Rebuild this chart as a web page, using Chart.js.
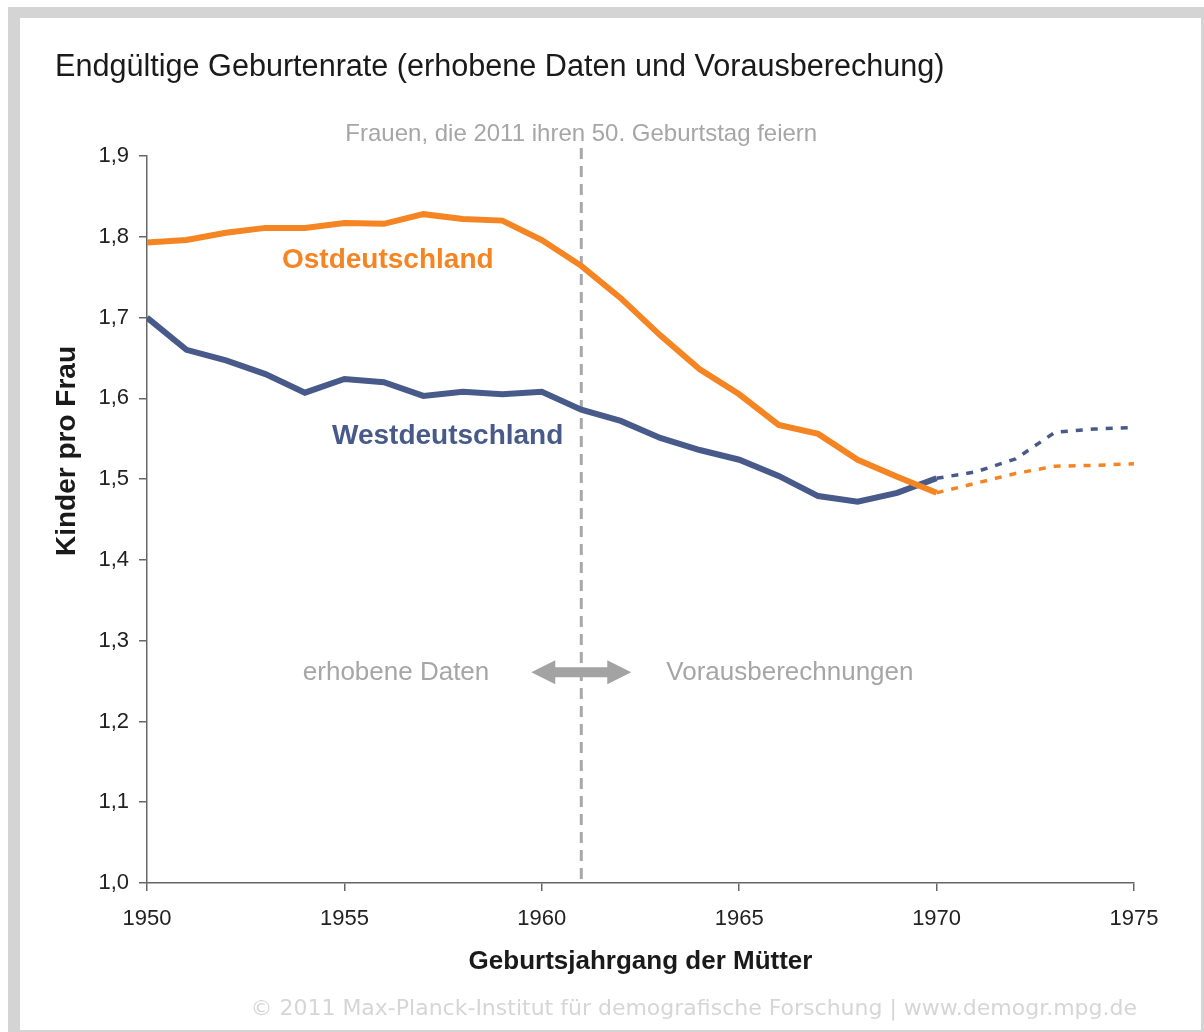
<!DOCTYPE html>
<html>
<head>
<meta charset="utf-8">
<script src="https://cdn.jsdelivr.net/npm/chart.js@4.4.1/dist/chart.umd.min.js"></script>
<style>
  body { margin: 0; background: #fff; }
  canvas { display: block; }
</style>
</head>
<body>
<canvas id="myChart" width="1204" height="1032"></canvas>
<script>
// observed cohorts
const years = [1950, 1951, 1952, 1953, 1954, 1955, 1956, 1957, 1958, 1959, 1960,
  1961, 1962, 1963, 1964, 1965, 1966, 1967, 1968, 1969, 1970];
const ost = [1.793, 1.796, 1.805, 1.811, 1.811, 1.817, 1.816, 1.828, 1.822, 1.820, 1.796,
  1.764, 1.724, 1.678, 1.636, 1.605, 1.567, 1.556, 1.524, 1.503, 1.483];
const west = [1.700, 1.660, 1.647, 1.630, 1.607, 1.624, 1.620, 1.603, 1.608, 1.605, 1.608,
  1.586, 1.572, 1.551, 1.536, 1.524, 1.504, 1.479, 1.472, 1.483, 1.501];

// projections
const projYears = [1970, 1971, 1972, 1973, 1974, 1975];
const ostProj = [1.483, 1.495, 1.507, 1.516, 1.517, 1.519];
const westProj = [1.501, 1.509, 1.525, 1.558, 1.562, 1.564];

const xTicks = [1950, 1955, 1960, 1965, 1970, 1975];
const yTicks = [1.0, 1.1, 1.2, 1.3, 1.4, 1.5, 1.6, 1.7, 1.8, 1.9];
const splitYear = 1961;

const ORANGE = "#F58423";
const BLUE = "#475A89";
const FONT = "'Liberation Sans', Arial, sans-serif";

const toPts = (xs, ys) => xs.map((x, i) => ({ x: x, y: ys[i] }));

const decorations = {
  id: "decorations",
  beforeDraw(chart) {
    const c = chart.ctx;
    c.save();
    // grey frame
    c.fillStyle = "#d4d4d4";
    c.fillRect(8, 7, 1196, 1025);
    c.fillStyle = "#ffffff";
    c.fillRect(20, 18, 1181, 1012);
    c.restore();
  },
  beforeDatasetsDraw(chart) {
    const c = chart.ctx;
    const xs = chart.scales.x;
    const area = chart.chartArea;
    const xm = xs.getPixelForValue(splitYear);
    c.save();
    c.strokeStyle = "#a8a8a8";
    c.lineWidth = 3;
    c.setLineDash([11, 7]);
    c.beginPath();
    c.moveTo(xm, area.top - 8);
    c.lineTo(xm, area.bottom);
    c.stroke();
    c.restore();
  },
  afterDraw(chart) {
    const c = chart.ctx;
    const xs = chart.scales.x;
    const ys = chart.scales.y;
    const area = chart.chartArea;
    const xm = xs.getPixelForValue(splitYear);
    c.save();

    // title
    c.fillStyle = "#1a1a1a";
    c.font = "30.6px " + FONT;
    c.textAlign = "left";
    c.textBaseline = "middle";
    c.fillText("Endgültige Geburtenrate (erhobene Daten und Vorausberechung)", 55, 68);

    // axis titles
    c.font = "bold 26px " + FONT;
    c.textAlign = "center";
    c.fillText("Geburtsjahrgang der Mütter", (area.left + area.right) / 2, 962);
    c.save();
    c.font = "bold 28px " + FONT;
    c.translate(67, 451);
    c.rotate(-Math.PI / 2);
    c.fillText("Kinder pro Frau", 0, 0);
    c.restore();

    // series labels
    c.font = "bold 28px " + FONT;
    c.textAlign = "left";
    c.fillStyle = ORANGE;
    c.fillText("Ostdeutschland", 282, 260);
    c.fillStyle = BLUE;
    c.fillText("Westdeutschland", 332, 436);

    // annotations
    c.fillStyle = "#a6a6a6";
    c.font = "24px " + FONT;
    c.textAlign = "center";
    c.fillText("Frauen, die 2011 ihren 50. Geburtstag feiern", xm, area.top - 22);

    const ya = ys.getPixelForValue(1.261);
    c.font = "26px " + FONT;
    c.textAlign = "right";
    c.fillText("erhobene Daten", xm - 92, ya + 1);
    c.textAlign = "left";
    c.fillText("Vorausberechnungen", xm + 85, ya + 1);

    // double arrow
    c.fillStyle = "#a3a3a3";
    c.beginPath();
    c.moveTo(xm - 50, ya);
    c.lineTo(xm - 26, ya - 12);
    c.lineTo(xm - 26, ya - 5);
    c.lineTo(xm + 26, ya - 5);
    c.lineTo(xm + 26, ya - 12);
    c.lineTo(xm + 50, ya);
    c.lineTo(xm + 26, ya + 12);
    c.lineTo(xm + 26, ya + 5);
    c.lineTo(xm - 26, ya + 5);
    c.lineTo(xm - 26, ya + 12);
    c.closePath();
    c.fill();

    // copyright
    c.fillStyle = "#d6d6d6";
    c.font = "22px 'DejaVu Sans', sans-serif";
    c.textAlign = "right";
    c.fillText("© 2011 Max-Planck-Institut für demografische Forschung | www.demogr.mpg.de", 1137, 1009);
    c.restore();
  },
};

const ctx = document.getElementById("myChart");
const myChart = new Chart(ctx, {
  type: "line",
  data: {
    datasets: [
      {
        label: "Ostdeutschland",
        data: toPts(years, ost),
        borderColor: ORANGE,
        borderWidth: 6,
        pointRadius: 0,
        tension: 0,
      },
      {
        label: "Westdeutschland",
        data: toPts(years, west),
        borderColor: BLUE,
        borderWidth: 6,
        pointRadius: 0,
        tension: 0,
      },
      {
        label: "Ost Vorausberechnung",
        data: toPts(projYears, ostProj),
        borderColor: ORANGE,
        borderWidth: 3.5,
        borderDash: [7, 8],
        pointRadius: 0,
        tension: 0,
      },
      {
        label: "West Vorausberechnung",
        data: toPts(projYears, westProj),
        borderColor: BLUE,
        borderWidth: 3.5,
        borderDash: [7, 8],
        pointRadius: 0,
        tension: 0,
      },
    ],
  },
  options: {
    responsive: false,
    animation: false,
    layout: { padding: { left: 0, top: 156, right: 70, bottom: 99 } },
    plugins: {
      legend: { display: false },
      tooltip: { enabled: false },
    },
    scales: {
      x: {
        type: "linear",
        min: xTicks[0],
        max: xTicks[xTicks.length - 1],
        afterBuildTicks: (scale) => {
          scale.ticks = xTicks.map((v) => ({ value: v }));
        },
        afterFit: (scale) => {
          scale.height = 50;
        },
        ticks: {
          callback: (v) => String(v),
          color: "#222",
          font: { family: FONT, size: 22 },
          padding: 15,
          maxRotation: 0,
        },
        grid: {
          drawOnChartArea: false,
          tickLength: 8,
          color: "#666",
          lineWidth: 1.5,
        },
        border: { color: "#666", width: 1.5 },
      },
      y: {
        min: yTicks[0],
        max: yTicks[yTicks.length - 1],
        afterBuildTicks: (scale) => {
          scale.ticks = yTicks.map((v) => ({ value: v }));
        },
        afterFit: (scale) => {
          scale.width = 147;
        },
        ticks: {
          callback: (v) => v.toFixed(1).replace(".", ","),
          color: "#222",
          font: { family: FONT, size: 22 },
          padding: 10,
        },
        grid: {
          drawOnChartArea: false,
          tickLength: 8,
          color: "#666",
          lineWidth: 1.5,
        },
        border: { color: "#666", width: 1.5 },
      },
    },
  },
  plugins: [decorations],
});
</script>
</body>
</html>
